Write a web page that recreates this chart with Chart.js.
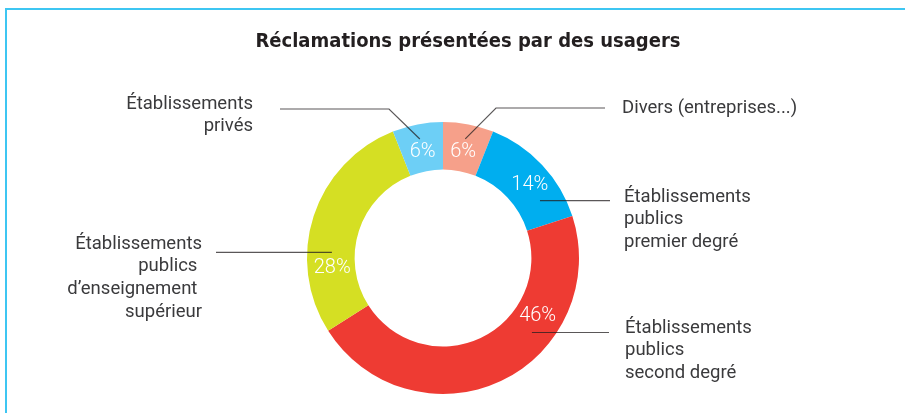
<!DOCTYPE html>
<html>
<head>
<meta charset="utf-8">
<script src="https://cdn.jsdelivr.net/npm/chart.js@4.4.0/dist/chart.umd.min.js"></script>
<style>
  body { margin: 0; background: #fff; }
  #wrap { position: relative; width: 905px; height: 413px; }
</style>
</head>
<body>
<div id="wrap"><canvas id="c" width="905" height="413"></canvas></div>
<script>
// data, clockwise from the top
const labels = [
  ['Divers (entreprises...)'],
  ['Établissements', 'publics', 'premier degré'],
  ['Établissements', 'publics', 'second degré'],
  ['Établissements', 'publics ', 'd\u2019enseignement ', 'supérieur'],
  ['Établissements', 'privés']
];
const values = [6, 14, 46, 28, 6];
const colors = ['#F6A08A', '#00AEEF', '#EE3B33', '#D5DF23', '#6DCFF6'];
const title = 'Réclamations présentées par des usagers';

// where things sit: share of the slice angle / share of ring thickness
const pctPos = [[0.5, 0.4], [0.56, 0.53], [0.30, 0.48], [0.27, 0.48], [0.5, 0.42]];
const callouts = [
  { at: [0.49, 0.69], elbow: [496, 108], end: 605, tx: 622, ty: 108, align: 'left' },
  { at: [0.75, 0.51], end: 610, tx: 624, ty: 197, align: 'left' },
  { at: [0.35, 0.58], end: 609, tx: 625, ty: 328, align: 'left' },
  { at: [0.35, 0.48], end: 216, tx: 202, ty: 244, align: 'right' },
  { at: [0.49, 0.69], elbow: [389, 109], end: 280, tx: 253, ty: 104, align: 'right' }
];

function polar(arc, f, rf) {
  const a = arc.startAngle + (arc.endAngle - arc.startAngle) * f;
  const r = arc.innerRadius + (arc.outerRadius - arc.innerRadius) * rf;
  return [arc.x + Math.cos(a) * r, arc.y + Math.sin(a) * r];
}

const decor = {
  id: 'decor',
  afterDraw(chart) {
    const ctx = chart.ctx;
    const arcs = chart.getDatasetMeta(0).data;
    ctx.save();
    // frame
    ctx.fillStyle = '#3EC6F2';
    ctx.fillRect(5, 8, 900, 2);
    ctx.fillRect(5, 8, 2, 405);
    // title
    ctx.fillStyle = '#231F20';
    ctx.font = 'bold 20px "DejaVu Sans Condensed"';
    ctx.textAlign = 'center';
    ctx.textBaseline = 'middle';
    ctx.fillText(title, 468, 42);
    // percentages
    ctx.fillStyle = '#fff';
    ctx.font = '300 20px Roboto';
    arcs.forEach((arc, i) => {
      const p = polar(arc, pctPos[i][0], pctPos[i][1]);
      ctx.fillText(values[i] + '%', p[0], p[1]);
    });
    // leaders and labels
    ctx.strokeStyle = 'rgba(35,31,32,0.75)';
    ctx.lineWidth = 1.2;
    ctx.font = '18.5px Roboto';
    arcs.forEach((arc, i) => {
      const c = callouts[i];
      const p = polar(arc, c.at[0], c.at[1]);
      ctx.beginPath();
      ctx.moveTo(p[0], p[1]);
      if (c.elbow) {
        ctx.lineTo(c.elbow[0], c.elbow[1]);
        ctx.lineTo(c.end, c.elbow[1]);
      } else {
        ctx.lineTo(c.end, p[1]);
      }
      ctx.stroke();
      ctx.fillStyle = '#3A3A3C';
      ctx.textAlign = c.align;
      labels[i].forEach((ln, j) => ctx.fillText(ln, c.tx, c.ty + j * 22.7));
    });
    ctx.restore();
  }
};

new Chart(document.getElementById('c'), {
  type: 'doughnut',
  data: {
    labels: labels,
    datasets: [{ data: values, backgroundColor: colors, borderWidth: 0 }]
  },
  options: {
    responsive: false,
    animation: false,
    cutout: '65%',
    layout: { padding: { left: 307, right: 326, top: 122, bottom: 19 } },
    plugins: { legend: { display: false }, tooltip: { enabled: false } }
  },
  plugins: [decor]
});
</script>
</body>
</html>
